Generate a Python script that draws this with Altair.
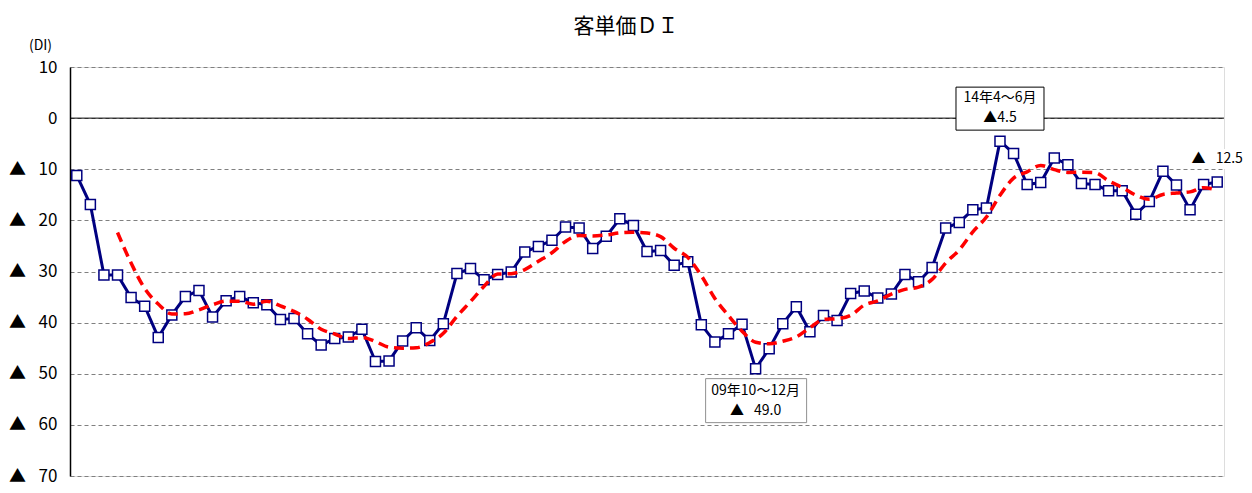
import altair as alt
import pandas as pd

# Quarterly DI values (Apr-Jun 1997 ... Apr-Jun 2018)
values = [
    -11.2, -16.9, -30.7, -30.7, -35.1, -36.8, -42.9, -38.5, -34.9, -33.7,
    -38.9, -35.7, -34.9, -36.1, -36.5, -39.4, -39.2, -42.2, -44.4, -43.1,
    -42.8, -41.3, -47.6, -47.5, -43.6, -41.0, -43.5, -40.2, -30.4, -29.4,
    -31.6, -30.6, -30.1, -26.2, -25.1, -23.9, -21.3, -21.5, -25.5, -23.1,
    -19.7, -21.0, -26.1, -25.9, -28.8, -28.1, -40.4, -43.8, -42.2, -40.3,
    -49.0, -45.1, -40.2, -36.9, -41.8, -38.6, -39.6, -34.3, -33.8, -35.2,
    -34.4, -30.6, -32.0, -29.2, -21.5, -20.4, -17.9, -17.6, -4.5, -6.9,
    -13.0, -12.6, -7.8, -9.1, -12.8, -13.0, -14.2, -14.2, -18.8, -16.3,
    -10.4, -13.1, -17.9, -13.0, -12.5,
]
start_year, start_q = 1997, 1  # q is zero-based: 1 -> Apr-Jun

periods = []
for i in range(len(values)):
    k = start_year * 4 + start_q + i
    yr, q = divmod(k, 4)
    periods.append(f"{yr % 100:02d}年{3 * q + 1}～{3 * q + 3}月")

y_ticks = [-70, -60, -50, -40, -30, -20, -10, 0, 10]

# Annotations
ann_periods = ["09年10～12月", "14年4～6月", periods[-1]]
ann_line1 = ["09年10～12月", "14年4～6月", "▲\u2002 12.5"]
ann_line2 = ["▲\u2002 49.0", "▲4.5", ""]

df = pd.DataFrame({"idx": list(range(len(values))), "period": periods, "value": values})

FONT = "Noto Sans CJK JP"
NAVY = "#000080"

x_enc = alt.X("period:N", scale=alt.Scale(type="point", domain=periods, padding=0.5), axis=None)
y_enc = alt.Y(
    "value:Q",
    scale=alt.Scale(domain=[-70, 10], nice=False, zero=False),
    axis=alt.Axis(
        values=y_ticks,
        labelExpr="datum.value < 0 ? '▲\u2002\u2005' + (-datum.value) : '' + datum.value",
        labelFont=FONT,
        labelFontSize=17,
        labelColor="black",
        labelPadding=13,
        ticks=False,
        domainColor="black",
        domainWidth=1.5,
        grid=True,
        gridDash=[4, 3],
        gridColor="#808080",
        gridWidth=1,
        title="(DI)",
        titleAngle=0,
        titleX=-30,
        titleY=-22,
        titleAlign="center",
        titleBaseline="middle",
        titleFont=FONT,
        titleFontSize=14,
        titleFontWeight="normal",
        titleColor="black",
    ),
)

base = alt.Chart(df)

zero = alt.Chart(pd.DataFrame({"value": [0]})).mark_rule(color="black", strokeWidth=1).encode(y=y_enc)

blue_line = base.mark_line(color=NAVY, strokeWidth=3).encode(x=x_enc, y=y_enc)
blue_pts = base.mark_point(
    shape="square", size=100, filled=True, fill="white", stroke=NAVY, strokeWidth=1.5, opacity=1
).encode(x=x_enc, y=y_enc)

red_line = (
    base.transform_window(ma="mean(value)", frame=[-3, 0], sort=[alt.SortField("idx")])
    .transform_filter("datum.idx >= 3")
    .mark_line(color="#FF0000", strokeWidth=3.5, strokeDash=[10, 6], interpolate="monotone")
    .encode(x=x_enc, y=alt.Y("ma:Q", scale=alt.Scale(domain=[-70, 10], nice=False, zero=False)))
)

ann_df = df.set_index("period").loc[ann_periods].reset_index()
ann_df["line1"] = ann_line1
ann_df["line2"] = ann_line2

box_styles = [
    ("M-50,10H51V54H-50Z", "#909090", 22, 42),
    ("M-44,-54H44V-11H-44Z", "black", -43, -23),
    ("M-30,-33H28V-13H-30Z", None, -23, 0),
]

ann_layers = []
for i, (path, stroke, dy1, dy2) in enumerate(box_styles):
    d = ann_df.iloc[[i]]
    c = alt.Chart(d)
    if stroke:
        bx = c.mark_point(shape=path, size=4, filled=True, fill="white", stroke=stroke,
                          strokeWidth=1, opacity=1).encode(x=x_enc, y=y_enc)
    else:
        bx = c.mark_point(shape=path, size=4, filled=True, fill="white", strokeWidth=0,
                          opacity=1).encode(x=x_enc, y=y_enc)
    t1 = c.mark_text(dy=dy1, font=FONT, fontSize=14, color="black", baseline="middle").encode(
        x=x_enc, y=y_enc, text="line1:N")
    ann_layers += [bx, t1]
    if ann_line2[i]:
        t2 = c.mark_text(dy=dy2, font=FONT, fontSize=14, color="black", baseline="middle").encode(
            x=x_enc, y=y_enc, text="line2:N")
        ann_layers.append(t2)

chart = (
    alt.layer(zero, blue_line, blue_pts, red_line, *ann_layers)
    .properties(
        width=1154,
        height=409,
        autosize=alt.AutoSizeParams(type="none"),
        padding={"left": 62, "top": 59, "right": 20, "bottom": 9},
        title=alt.TitleParams(
            "客単価ＤＩ", font=FONT, fontSize=21, fontWeight="normal", color="black",
            anchor="middle", offset=1, dx=-21,
        ),
    )
    .configure_view(stroke="#808080", strokeWidth=1)
    .configure(background="white")
)

chart.save("out.html", embed_options={"renderer": "svg", "actions": False})
